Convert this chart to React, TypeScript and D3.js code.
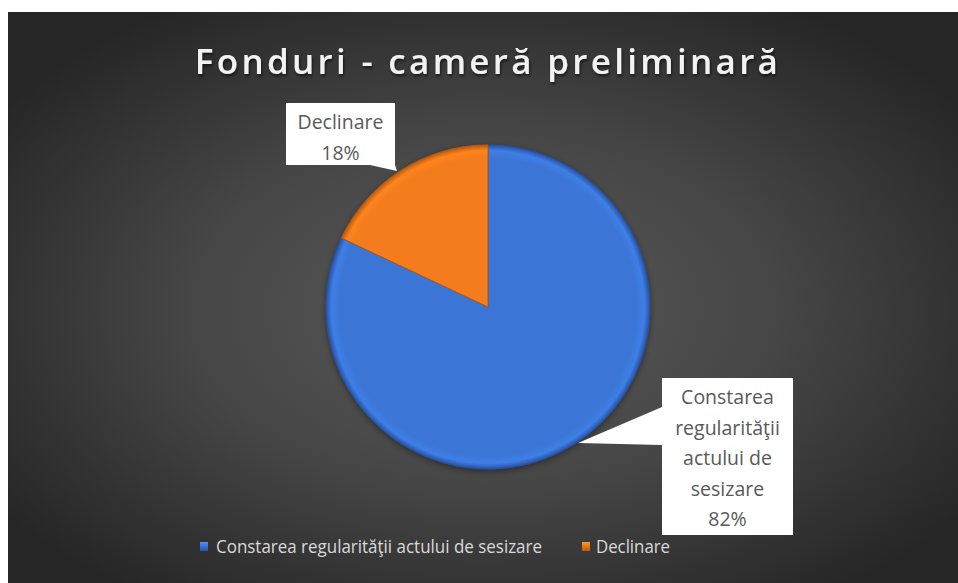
import React from "react";
import * as d3 from "d3";

const categories = ["Constarea regularităţii actului de sesizare", "Declinare"];
const values = [82, 18];
const labelLines = [
  ["Constarea", "regularităţii", "actului de", "sesizare", "82%"],
  ["Declinare", "18%"],
];
const colors = ["#3b76d6", "#f47b1b"];
const edgeColors = ["#2752a6", "#b95a0e"];
const title = "Fonduri - cameră preliminară";

const W = 950;
const H = 571;
const FONT = "'Open Sans', 'Noto Sans', sans-serif";

export default function App() {
  const cx = 480, cy = 295, r = 162;
  const pie = d3.pie<number>().sort(null).value((d) => d)(values);
  const arc = d3.arc<d3.PieArcDatum<number>>().innerRadius(0).outerRadius(r);

  const boxes = [
    { x: 654, y: 366, w: 131, h: 157, pointer: [[654, 395], [570, 431], [654, 433]] },
    { x: 278, y: 91, w: 109, h: 62, pointer: [[362, 153], [387, 153], [389, 159]] },
  ];

  return (
    <div style={{ position: "absolute", left: 8, top: 12, margin: 0 }}>
      <svg width={W} height={H} style={{ display: "block" }}>
        <defs>
          <radialGradient id="bg" cx="50%" cy="52%" r="62%">
            <stop offset="0%" stopColor="#5a5a5a" />
            <stop offset="50%" stopColor="#464646" />
            <stop offset="100%" stopColor="#262626" />
          </radialGradient>
          {colors.map((c, i) => (
            <radialGradient key={i} id={`g${i}`} gradientUnits="userSpaceOnUse" cx={0} cy={0} r={r}>
              <stop offset="0%" stopColor={c} />
              <stop offset="92%" stopColor={c} />
              <stop offset="96.5%" stopColor={d3.color(c)!.brighter(0.2).toString()} />
              <stop offset="100%" stopColor={edgeColors[i]} />
            </radialGradient>
          ))}
          {colors.map((c, i) => (
            <linearGradient key={i} id={`lg${i}`} x1="0" y1="0" x2="0" y2="1">
              <stop offset="0%" stopColor={d3.color(c)!.brighter(0.6).toString()} />
              <stop offset="100%" stopColor={edgeColors[i]} />
            </linearGradient>
          ))}
          <filter id="ts" x="-10%" y="-30%" width="120%" height="160%">
            <feDropShadow dx="1" dy="2" stdDeviation="1.5" floodColor="#000" floodOpacity="0.6" />
          </filter>
          <filter id="ps" x="-20%" y="-20%" width="140%" height="140%">
            <feDropShadow dx="0" dy="2" stdDeviation="3" floodColor="#000" floodOpacity="0.4" />
          </filter>
        </defs>
        <rect x={0} y={0} width={W} height={H} fill="url(#bg)" />
        <text
          x={480}
          y={62}
          textAnchor="middle"
          fill="#f2f2f2"
          fontFamily={FONT}
          fontWeight={600}
          fontSize={35}
          letterSpacing={3.3}
          filter="url(#ts)"
        >
          {title}
        </text>
        <g transform={`translate(${cx},${cy})`} filter="url(#ps)">
          {pie.map((d, i) => (
            <path key={i} d={arc(d)!} fill={`url(#g${i})`} stroke={edgeColors[i]} strokeWidth={1} />
          ))}
        </g>
        {boxes.map((b, i) => (
          <g key={i}>
            <polygon points={b.pointer.map((p) => p.join(",")).join(" ")} fill="#ffffff" />
            <rect x={b.x} y={b.y} width={b.w} height={b.h} fill="#ffffff" />
            {labelLines[i].map((line, j) => (
              <text
                key={j}
                x={b.x + b.w / 2}
                y={b.y + 26 + j * 30.5}
                textAnchor="middle"
                fill="#595959"
                fontFamily={FONT}
                fontSize={19.5}
              >
                {line}
              </text>
            ))}
          </g>
        ))}
        <g fontFamily={FONT} fontSize={18} fill="#d9d9d9">
          <rect x={192} y={530} width={8} height={9} fill="url(#lg0)" />
          <text x={208} y={541} textLength={326} lengthAdjust="spacingAndGlyphs">
            {categories[0]}
          </text>
          <rect x={574} y={530} width={8} height={9} fill="url(#lg1)" />
          <text x={588} y={541} textLength={74} lengthAdjust="spacingAndGlyphs">
            {categories[1]}
          </text>
        </g>
      </svg>
    </div>
  );
}
